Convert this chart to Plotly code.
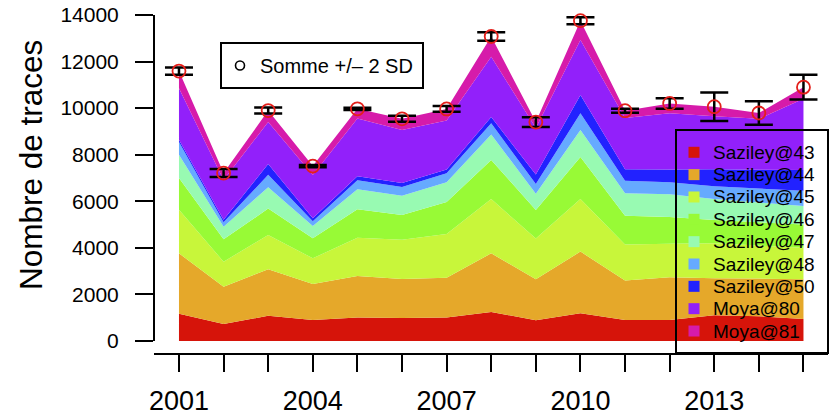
import plotly.graph_objects as go

years = list(range(2001, 2016))
series_names = ["Saziley@43", "Saziley@44", "Saziley@45", "Saziley@46", "Saziley@47",
                "Saziley@48", "Saziley@50", "Moya@80", "Moya@81"]
series_colors = ["#D6140A", "#E5A82A", "#C8F63A", "#98FA36", "#98FAB2",
                 "#66AAFF", "#2222FF", "#9220FA", "#D61BAA"]

s43 = [1170, 730, 1080, 900, 1010, 990, 1010, 1245, 890, 1190, 900, 900, 1110, 1060, 950]
s44 = [2595, 1600, 2000, 1550, 1780, 1670, 1710, 2520, 1760, 2650, 1700, 1840, 1590, 1620, 1700]
s45 = [1875, 1075, 1475, 1100, 1645, 1690, 1880, 2330, 1750, 2260, 1540, 1440, 1500, 1420, 1350]
s46 = [1360, 960, 1130, 860, 1225, 1060, 1370, 1675, 1225, 1800, 1235, 1150, 1000, 1000, 1000]
s47 = [1000, 545, 920, 530, 855, 830, 850, 1100, 695, 1160, 965, 970, 900, 850, 800]
s48 = [550, 190, 530, 200, 385, 370, 380, 475, 420, 715, 540, 520, 550, 600, 650]
s50 = [90, 110, 470, 130, 170, 175, 160, 270, 410, 790, 500, 540, 730, 800, 890]
m80 = [2210, 1700, 1800, 1860, 2480, 2275, 2110, 2590, 2000, 2360, 2200, 2415, 2270, 2190, 3060]
m81 = [740, 300, 490, 380, 420, 480, 495, 870, 250, 830, 310, 425, 410, 250, 500]

sd2 = [157, 172, 129, 50, 50, 129, 125, 180, 208, 150, 86, 222, 615, 500, 528]

y_ticks = [0, 2000, 4000, 6000, 8000, 10000, 12000, 14000]
x_tick_labels = {2001: "2001", 2004: "2004", 2007: "2007", 2010: "2010", 2013: "2013"}

series_values = [s43, s44, s45, s46, s47, s48, s50, m80, m81]
totals = [sum(v) for v in zip(*series_values)]

FONT = "Liberation Sans, Arial, Helvetica, sans-serif"
W, H = 834, 416
L, R, T, B = 154, 6, 5, 62
pw, ph = W - L - R, H - T - B

def px(x):
    return (x - L) / pw

def py(y):
    return (H - B - y) / ph

fig = go.Figure()
for name, vals, col in zip(series_names, series_values, series_colors):
    fig.add_trace(go.Scatter(x=years, y=vals, name=name, stackgroup="one", mode="none",
                             fillcolor=col, showlegend=False, hoverinfo="skip"))

fig.add_trace(go.Scatter(
    x=years, y=totals, mode="markers", showlegend=False,
    marker=dict(symbol="circle-open", size=13, color="#E3201B", line=dict(width=1.8)),
    error_y=dict(type="data", array=sd2, color="black", thickness=2.5, width=14),
))

shapes = []
# axis lines (R style)
shapes.append(dict(type="line", xref="paper", yref="y", x0=0, x1=0, y0=0, y1=14000,
                   line=dict(color="black", width=2)))
shapes.append(dict(type="line", xref="paper", yref="paper", x0=0, x1=1, y0=0, y1=0,
                   line=dict(color="black", width=2)))

annotations = []
# main legend box
shapes.append(dict(type="rect", xref="paper", yref="paper", x0=px(676), x1=px(828),
                   y0=py(130), y1=py(353), line=dict(color="black", width=2),
                   fillcolor="rgba(0,0,0,0)", layer="above"))
for i, (name, col) in enumerate(zip(series_names, series_colors)):
    yc = 152.3 + i * 22.34
    shapes.append(dict(type="rect", xref="paper", yref="paper",
                       x0=px(694 - 5.5), x1=px(694 + 5.5), y0=py(yc + 5.5), y1=py(yc - 5.5),
                       fillcolor=col, line=dict(width=0), layer="above"))
    annotations.append(dict(x=px(711), y=py(yc), xref="paper", yref="paper", text=name,
                            showarrow=False, xanchor="left", yanchor="middle",
                            font=dict(family=FONT, size=19, color="black")))

# "Somme" legend box
shapes.append(dict(type="rect", xref="paper", yref="paper", x0=px(221), x1=px(423),
                   y0=py(88), y1=py(43), line=dict(color="black", width=2),
                   fillcolor="white", layer="above"))
shapes.append(dict(type="circle", xref="paper", yref="paper",
                   x0=px(240 - 4.5), x1=px(240 + 4.5), y0=py(65.5 + 4.5), y1=py(65.5 - 4.5),
                   line=dict(color="black", width=1.6), layer="above"))
annotations.append(dict(x=px(258), y=py(65.5), xref="paper", yref="paper",
                        text="Somme +/– 2 SD", showarrow=False, xanchor="left",
                        yanchor="middle", font=dict(family=FONT, size=20, color="black")))

# y-axis title
annotations.append(dict(x=px(31), y=py(165), xref="paper", yref="paper",
                        text="Nombre de traces", showarrow=False, textangle=-90,
                        xanchor="center", yanchor="middle",
                        font=dict(family=FONT, size=31.5, color="black")))

fig.update_layout(
    width=W, height=H, margin=dict(l=L, r=R, t=T, b=B, autoexpand=False),
    paper_bgcolor="white", plot_bgcolor="white",
    shapes=shapes, annotations=annotations, showlegend=False,
    font=dict(family=FONT, color="black"),
)
fig.update_xaxes(range=[2000.44, 2015.55], showgrid=False, zeroline=False, showline=False,
                 automargin=False,
                 tickmode="array", tickvals=years,
                 ticktext=[x_tick_labels.get(y, "") for y in years],
                 ticks="outside", ticklen=17, tickwidth=2, tickcolor="black",
                 tickfont=dict(family=FONT, size=27, color="black"), ticklabelstandoff=6)
fig.update_yaxes(range=[-558, 14428], showgrid=False, zeroline=False, showline=False,
                 automargin=False,
                 tickmode="array", tickvals=y_ticks, ticktext=[str(v) for v in y_ticks],
                 ticks="outside", ticklen=18, tickwidth=2, tickcolor="black",
                 tickfont=dict(family=FONT, size=21, color="black"), ticklabelstandoff=12)

fig.write_html("out.html", config={"displayModeBar": False},
               post_script="document.body.style.margin='0';document.body.style.padding='0';")
